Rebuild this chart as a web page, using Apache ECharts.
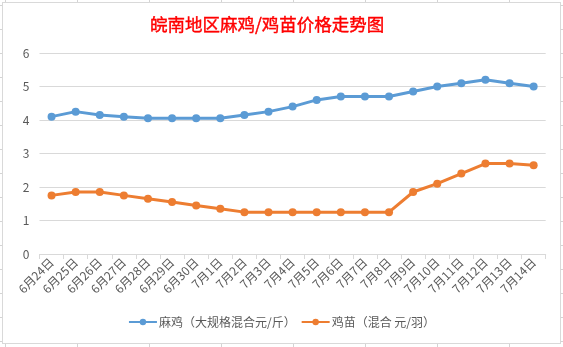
<!DOCTYPE html>
<html><head><meta charset="utf-8">
<script src="https://cdn.jsdelivr.net/npm/echarts@6/dist/echarts.min.js"></script>
<style>
html,body{margin:0;padding:0;width:563px;height:347px;overflow:hidden;background-color:#fff;
background-image:linear-gradient(to right,#d4d4d4 1px,transparent 1px),linear-gradient(to bottom,#d4d4d4 1px,transparent 1px);
background-size:72px 24px;background-position:5px 5px;}
#chart{position:absolute;left:2px;top:2px;width:557px;height:340px;border:1px solid #d9d9d9;background:#fff;}
</style></head>
<body><div id="chart"></div>
<script>
const categories = ['6月24日','6月25日','6月26日','6月27日','6月28日','6月29日','6月30日','7月1日','7月2日','7月3日','7月4日','7月5日','7月6日','7月7日','7月8日','7月9日','7月10日','7月11日','7月12日','7月13日','7月14日'];
const maji = [4.1,4.25,4.15,4.1,4.05,4.05,4.05,4.05,4.15,4.25,4.4,4.6,4.7,4.7,4.7,4.85,5.0,5.1,5.2,5.1,5.0];
const jimiao = [1.75,1.85,1.85,1.75,1.65,1.55,1.45,1.35,1.25,1.25,1.25,1.25,1.25,1.25,1.25,1.85,2.1,2.4,2.7,2.7,2.65];
const seriesNames = ['麻鸡（大规格混合元/斤）','鸡苗（混合 元/羽）'];
const yTicks = {min:0,max:6,interval:1};
const FONT = '"Noto Sans CJK SC","Microsoft YaHei",sans-serif';
const chart = echarts.init(document.getElementById('chart'));
chart.setOption({
  animation:false,
  title:{text:'皖南地区麻鸡/鸡苗价格走势图',left:142,top:8,
    textStyle:{color:'#ff0000',fontSize:17.5,fontWeight:'normal',fontFamily:FONT,
      textBorderColor:'#ff0000',textBorderWidth:0.4}},
  grid:{left:36.5,right:14.3,top:50,bottom:89},
  legend:{bottom:10,left:'center',itemWidth:28,itemHeight:8,itemGap:5,
    textStyle:{color:'#595959',fontSize:12,fontFamily:FONT,padding:[0,0,0,-3]},data:seriesNames},
  xAxis:{type:'category',data:categories,boundaryGap:true,
    axisLine:{lineStyle:{color:'#d9d9d9',width:1}},
    axisTick:{show:true,length:5,lineStyle:{color:'#d9d9d9'}},
    axisLabel:{rotate:45,color:'#595959',fontSize:12,fontFamily:FONT,margin:6,interval:0}},
  yAxis:{type:'value',min:yTicks.min,max:yTicks.max,interval:yTicks.interval,
    axisLine:{show:false},axisTick:{show:false},
    axisLabel:{color:'#595959',fontSize:12,fontFamily:FONT,margin:10},
    splitLine:{lineStyle:{color:'#d9d9d9',width:1}}},
  series:[
    {name:seriesNames[0],type:'line',data:maji,symbol:'circle',symbolSize:8,
      lineStyle:{color:'#5b9bd5',width:3},itemStyle:{color:'#5b9bd5'}},
    {name:seriesNames[1],type:'line',data:jimiao,symbol:'circle',symbolSize:8,
      lineStyle:{color:'#ed7d31',width:3},itemStyle:{color:'#ed7d31'}}
  ]
});
</script></body></html>
